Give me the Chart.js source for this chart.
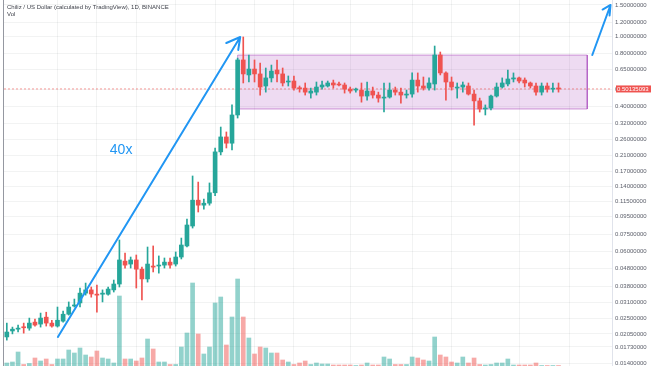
<!DOCTYPE html>
<html>
<head>
<meta charset="utf-8">
<script src="https://cdn.jsdelivr.net/npm/chart.js"></script>
<style>
  html, body { margin: 0; padding: 0; background: #fff; }
  #wrap { position: relative; width: 654px; height: 366px; }
</style>
</head>
<body>
<div id="wrap"><canvas id="chart" width="654" height="366"></canvas></div>
<script>
// daily CHZ/USDT candles
const openP = [0.0197, 0.0213, 0.0218, 0.0224, 0.0221, 0.0239, 0.0233, 0.0255, 0.0236, 0.0227,
  0.0242, 0.0265, 0.0295, 0.0307, 0.0349, 0.0364, 0.0344, 0.0344, 0.0344, 0.0364,
  0.0393, 0.0530, 0.0510, 0.0538, 0.0477, 0.0420, 0.0497, 0.0497, 0.0503, 0.0523,
  0.0510, 0.0559, 0.0646, 0.0838, 0.1174, 0.110, 0.1129, 0.1293, 0.2205, 0.268,
  0.247, 0.357, 0.732, 0.602, 0.650, 0.610, 0.521, 0.579, 0.642, 0.610,
  0.549, 0.556, 0.507, 0.507, 0.475, 0.481, 0.514, 0.521, 0.542, 0.535,
  0.528, 0.500, 0.494, 0.494, 0.457, 0.488, 0.463, 0.445, 0.451, 0.494,
  0.481, 0.463, 0.469, 0.563, 0.521, 0.507, 0.535, 0.781, 0.618, 0.549,
  0.507, 0.514, 0.521, 0.469, 0.429, 0.386, 0.391, 0.457, 0.514, 0.535,
  0.571, 0.579, 0.563, 0.542, 0.521, 0.481, 0.521, 0.500, 0.505];
const highP = [0.0236, 0.0224, 0.0230, 0.0236, 0.0252, 0.0249, 0.0269, 0.0272, 0.0245, 0.0291,
  0.0276, 0.0311, 0.0323, 0.0373, 0.0398, 0.0378, 0.0388, 0.0364, 0.0378, 0.0414,
  0.0698, 0.0589, 0.0559, 0.0574, 0.0490, 0.0637, 0.0646, 0.0567, 0.0552, 0.0552,
  0.0597, 0.0716, 0.0918, 0.161, 0.1487, 0.119, 0.147, 0.232, 0.305, 0.286,
  0.407, 0.75, 0.988, 0.781, 0.732, 0.703, 0.659, 0.685, 0.732, 0.659,
  0.594, 0.594, 0.521, 0.542, 0.507, 0.549, 0.556, 0.556, 0.563, 0.549,
  0.542, 0.514, 0.507, 0.542, 0.549, 0.514, 0.481, 0.542, 0.542, 0.514,
  0.507, 0.494, 0.618, 0.618, 0.586, 0.579, 0.878, 0.812, 0.626, 0.586,
  0.542, 0.549, 0.542, 0.494, 0.445, 0.407, 0.463, 0.542, 0.579, 0.642,
  0.618, 0.586, 0.579, 0.549, 0.542, 0.542, 0.542, 0.542, 0.542];
const lowP = [0.0189, 0.0205, 0.0210, 0.0207, 0.0215, 0.0227, 0.0224, 0.0227, 0.0224, 0.0224,
  0.0239, 0.0262, 0.0291, 0.0291, 0.0340, 0.0331, 0.0272, 0.0311, 0.0340, 0.0354,
  0.0378, 0.0484, 0.0484, 0.0373, 0.0319, 0.0403, 0.0460, 0.0453, 0.0484, 0.0484,
  0.0497, 0.0545, 0.0637, 0.0816, 0.1006, 0.1045, 0.110, 0.1244, 0.212, 0.232,
  0.226, 0.343, 0.542, 0.549, 0.549, 0.463, 0.481, 0.549, 0.549, 0.521,
  0.521, 0.494, 0.481, 0.463, 0.445, 0.463, 0.500, 0.514, 0.507, 0.521,
  0.475, 0.475, 0.481, 0.422, 0.433, 0.445, 0.422, 0.371, 0.445, 0.463,
  0.416, 0.445, 0.451, 0.481, 0.494, 0.494, 0.494, 0.602, 0.433, 0.494,
  0.445, 0.481, 0.463, 0.313, 0.371, 0.357, 0.381, 0.451, 0.507, 0.521,
  0.549, 0.542, 0.514, 0.507, 0.463, 0.463, 0.481, 0.481, 0.481];
const closeP = [0.0210, 0.0218, 0.0221, 0.0222, 0.0236, 0.0230, 0.0252, 0.0236, 0.0227, 0.0245,
  0.0265, 0.0291, 0.0299, 0.0349, 0.0364, 0.0345, 0.0340, 0.0349, 0.0368, 0.0393,
  0.0538, 0.0503, 0.0538, 0.0477, 0.0420, 0.0510, 0.0490, 0.0503, 0.0523, 0.0503,
  0.0559, 0.0654, 0.0849, 0.1174, 0.110, 0.1129, 0.1293, 0.2205, 0.268, 0.247,
  0.357, 0.732, 0.610, 0.650, 0.610, 0.514, 0.579, 0.633, 0.610, 0.542,
  0.556, 0.507, 0.503, 0.481, 0.488, 0.514, 0.528, 0.542, 0.528, 0.528,
  0.500, 0.488, 0.500, 0.457, 0.488, 0.463, 0.445, 0.451, 0.494, 0.481,
  0.463, 0.469, 0.563, 0.521, 0.507, 0.542, 0.781, 0.618, 0.549, 0.514,
  0.514, 0.528, 0.469, 0.429, 0.386, 0.391, 0.457, 0.514, 0.542, 0.571,
  0.579, 0.556, 0.542, 0.521, 0.481, 0.521, 0.500, 0.505, 0.50135];
// volume, millions CHZ
const volume = [90, 120, 420, 45, 75, 240, 150, 210, 45, 210,
  210, 480, 390, 540, 330, 270, 450, 240, 210, 90,
  2100, 210, 210, 150, 240, 810, 510, 120, 120, 45,
  45, 570, 990, 2490, 960, 360, 570, 1890, 2070, 630,
  1470, 2610, 1470, 840, 360, 570, 540, 390, 390, 180,
  120, 45, 90, 150, 45, 90, 60, 60, 30, 30,
  30, 30, 15, 30, 90, 30, 30, 270, 210, 45,
  45, 45, 270, 240, 180, 150, 870, 330, 270, 120,
  90, 270, 90, 240, 45, 30, 45, 90, 90, 210,
  30, 30, 30, 30, 90, 15, 15, 15, 15];

const lastPrice = 0.50135093;
const priceTicks = [1.5, 1.2, 1.0, 0.8, 0.65, 0.5, 0.4, 0.32, 0.26, 0.21, 0.17, 0.14, 0.115,
  0.095, 0.075, 0.06, 0.048, 0.038, 0.031, 0.025, 0.0205, 0.0173, 0.014];
const gridDays = [9, 16, 23, 30, 37, 44, 51, 61, 72, 79, 91, 100];

// drawings on the chart (day index, price)
const rangeDays = [41, 103.1];
const rangePrices = [0.78, 0.386];
const arrowUp = [{ x: 9.07, y: 0.0197 }, { x: 41.46, y: 0.988 }, { x: 38.99, y: 0.913 }, { x: 41.46, y: 0.988 }, { x: 41.11, y: 0.834 }];
const arrowNext = [{ x: 104.0, y: 0.781 }, { x: 107.24, y: 1.5 }, { x: 105.83, y: 1.414 }, { x: 107.24, y: 1.5 }, { x: 107.07, y: 1.308 }];
const gainLabel = { text: '40x', x: 18.3, y: 0.2145 };
const headerText = 'Chiliz / US Dollar (calculated by TradingView), 1D, BINANCE';

const UP = '#26a69a', DOWN = '#ef5350', ARROW = '#2196f3';
const days = openP.map((_, i) => i);
const isUp = days.map(i => closeP[i] >= openP[i]);
const candleColors = isUp.map(u => (u ? UP : DOWN));
const volColors = isUp.map(u => (u ? 'rgba(38,166,154,0.5)' : 'rgba(239,83,80,0.5)'));

const overlay = {
  id: 'overlay',
  afterDraw(chart) {
    const { ctx, chartArea, scales } = chart;
    ctx.save();
    ctx.strokeStyle = '#9598a1';
    ctx.lineWidth = 1;
    ctx.beginPath();
    ctx.moveTo(chartArea.left - 0.5, 0);
    ctx.lineTo(chartArea.left - 0.5, chart.height);
    ctx.stroke();

    ctx.fillStyle = '#3c3f48';
    ctx.font = '6px "Liberation Sans"';
    ctx.textBaseline = 'alphabetic';
    ctx.fillText(headerText, chartArea.left + 3, 9);
    ctx.fillText('Vol', chartArea.left + 3, 16);

    ctx.fillStyle = ARROW;
    ctx.font = '14px "Liberation Sans"';
    ctx.fillText(gainLabel.text, scales.x.getPixelForValue(gainLabel.x), scales.y.getPixelForValue(gainLabel.y));

    // last price tag on the axis
    const py = scales.y.getPixelForValue(lastPrice);
    ctx.fillStyle = DOWN;
    ctx.fillRect(chartArea.right + 4, py - 3.5, 35, 7);
    ctx.fillStyle = '#fff';
    ctx.font = '6px "Liberation Sans"';
    ctx.textBaseline = 'middle';
    ctx.fillText(lastPrice.toFixed(8), chartArea.right + 5, py + 0.5);
    ctx.restore();
  }
};

const lineBase = { type: 'line', pointRadius: 0, tension: 0, fill: false, yAxisID: 'y' };

new Chart(document.getElementById('chart'), {
  type: 'bar',
  data: {
    datasets: [
      {
        label: 'Vol', yAxisID: 'vol', order: 10, grouped: false, barThickness: 4,
        data: days.map(i => ({ x: i, y: volume[i] })), backgroundColor: volColors
      },
      {
        ...lineBase, label: 'range', order: 9, fill: 'shape', borderWidth: 1,
        borderColor: 'rgba(156,39,176,0.45)', backgroundColor: 'rgba(156,39,176,0.17)',
        data: [
          { x: rangeDays[0], y: rangePrices[0] }, { x: rangeDays[1], y: rangePrices[0] },
          { x: rangeDays[1], y: rangePrices[1] }, { x: rangeDays[0], y: rangePrices[1] },
          { x: rangeDays[0], y: rangePrices[0] }
        ]
      },
      {
        ...lineBase, label: 'last', order: 8, borderWidth: 1, borderDash: [2, 2],
        borderColor: 'rgba(239,83,80,0.6)',
        data: [{ x: -0.5, y: lastPrice }, { x: 107.5, y: lastPrice }]
      },
      {
        label: 'wick', yAxisID: 'y', order: 2, grouped: false, barThickness: 1, minBarLength: 1,
        data: days.map(i => ({ x: i, y: [lowP[i], highP[i]] })), backgroundColor: candleColors
      },
      {
        label: 'body', yAxisID: 'y', order: 1, grouped: false, barThickness: 4, minBarLength: 1,
        data: days.map(i => ({ x: i, y: [openP[i], closeP[i]] })), backgroundColor: candleColors
      },
      { ...lineBase, label: 'arrow1', order: 0, borderWidth: 2, borderColor: ARROW, borderJoinStyle: 'round', borderCapStyle: 'round', data: arrowUp },
      { ...lineBase, label: 'arrow2', order: 0, borderWidth: 2, borderColor: ARROW, borderJoinStyle: 'round', borderCapStyle: 'round', data: arrowNext }
    ]
  },
  options: {
    responsive: false,
    animation: false,
    events: [],
    layout: { padding: { left: 4, top: 0, right: 0, bottom: 0 } },
    plugins: { legend: { display: false }, tooltip: { enabled: false } },
    scales: {
      x: {
        type: 'linear', min: -0.5, max: 107.5, offset: false,
        afterBuildTicks: s => { s.ticks = gridDays.map(v => ({ value: v })); },
        afterFit: s => { s.height = 0; s.paddingLeft = 0; s.paddingRight = 0; },
        ticks: { display: false },
        grid: { color: 'rgba(42,46,57,0.06)', drawTicks: false, offset: false },
        border: { display: false }
      },
      y: {
        type: 'logarithmic', position: 'right', min: 0.01348, max: 1.601, bounds: 'data',
        afterBuildTicks: s => { s.ticks = priceTicks.map(v => ({ value: v })); },
        afterFit: s => { s.width = 42; s.paddingTop = 0; s.paddingBottom = 0; },
        ticks: {
          autoSkip: false, padding: 3, color: '#5d606b',
          font: { family: 'Liberation Sans', size: 6 },
          callback: v => Number(v).toFixed(8)
        },
        grid: { color: 'rgba(42,46,57,0.06)', drawTicks: false },
        border: { color: '#e0e3eb' }
      },
      vol: { type: 'linear', display: false, min: 0, max: 10980 }
    }
  },
  plugins: [overlay]
});
</script>
</body>
</html>
